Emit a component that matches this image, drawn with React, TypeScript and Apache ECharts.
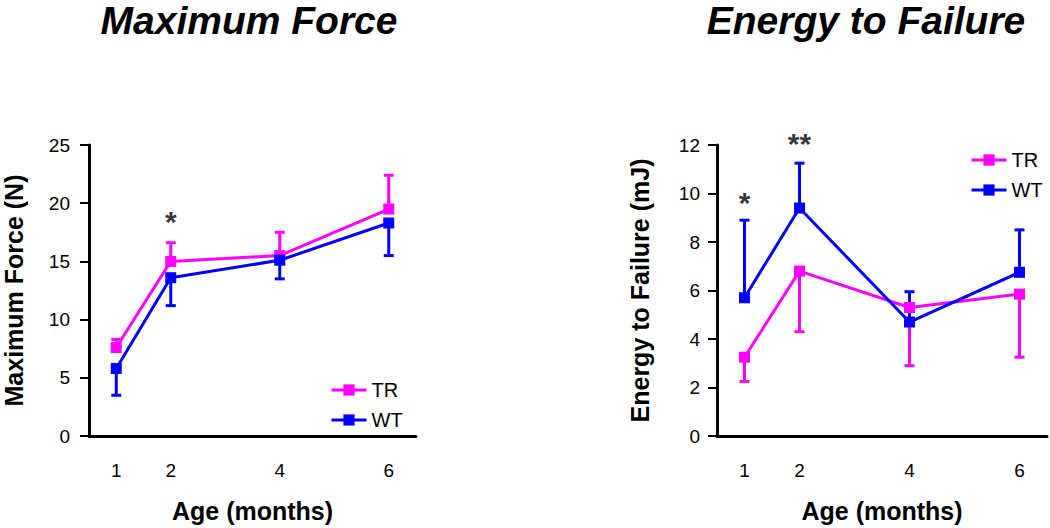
import React, { useEffect, useRef } from "react";
import * as echarts from "echarts";

const xTicks = [1, 2, 4, 6];
const seriesNames = ["TR", "WT"];

const forceTR = [7.6, 15.0, 15.5, 19.5];
const forceTRErrEnd = [8.3, 16.6, 17.5, 22.4];
const forceWT = [5.8, 13.6, 15.1, 18.3];
const forceWTErrEnd = [3.5, 11.2, 13.5, 15.5];

const energyTR = [3.25, 6.8, 5.3, 5.85];
const energyTRErrEnd = [2.25, 4.3, 2.9, 3.25];
const energyWT = [5.7, 9.4, 4.7, 6.75];
const energyWTErrEnd = [8.9, 11.25, 5.95, 8.5];

const forceStars: [number, number, string][] = [[2, 19.1, "*"]];
const energyStars: [number, number, string][] = [
  [1, 9.95, "*"],
  [2, 12.4, "**"],
];

const TR_COLOR = "#FF00FF";
const WT_COLOR = "#0000FF";
const FONT = 'Arial, "Liberation Sans", Helvetica, sans-serif';

function pairs(vals: number[]) {
  return xTicks.map((x, i) => [x, vals[i]]);
}
function errData(vals: number[], ends: number[]) {
  return xTicks.map((x, i) => [x, vals[i], ends[i]]);
}

function errSeries(idx: number, vals: number[], ends: number[], color: string) {
  return {
    type: "custom",
    xAxisIndex: idx,
    yAxisIndex: idx,
    z: 1,
    silent: true,
    encode: { x: 0, y: [1, 2] },
    data: errData(vals, ends),
    renderItem: (params: any, api: any) => {
      const x = api.value(0);
      const v = api.value(1);
      const e = api.value(2);
      const p0 = api.coord([x, v]);
      const p1 = api.coord([x, e]);
      const style = { stroke: color, lineWidth: 3, fill: "none" };
      return {
        type: "group",
        children: [
          { type: "line", shape: { x1: p0[0], y1: p0[1], x2: p1[0], y2: p1[1] }, style },
          { type: "line", shape: { x1: p1[0] - 5, y1: p1[1], x2: p1[0] + 5, y2: p1[1] }, style },
        ],
      };
    },
  };
}

function lineSeries(idx: number, name: string, vals: number[], color: string) {
  return {
    type: "line",
    name,
    xAxisIndex: idx,
    yAxisIndex: idx,
    z: 3,
    data: pairs(vals),
    symbol: "rect",
    symbolSize: 11,
    showSymbol: true,
    itemStyle: { color },
    lineStyle: { color, width: 3 },
  };
}

function starSeries(idx: number, stars: [number, number, string][]) {
  return {
    type: "scatter",
    xAxisIndex: idx,
    yAxisIndex: idx,
    clip: false,
    silent: true,
    symbolSize: 0,
    data: stars.map((s) => ({ value: [s[0], s[1]], name: s[2] })),
    label: {
      show: true,
      position: "inside",
      formatter: (p: any) => p.name,
      fontSize: 30,
      fontWeight: "bold",
      fontFamily: FONT,
      color: "#000",
      offset: [0, 8],
    },
  };
}

function xAxisCfg(idx: number) {
  return {
    gridIndex: idx,
    type: "value",
    min: 0.5,
    max: 6.5,
    interval: 0.5,
    axisLine: { onZero: false, lineStyle: { color: "#000", width: 3 } },
    axisTick: { show: false },
    splitLine: { show: false },
    axisLabel: {
      formatter: (v: number) => (xTicks.includes(v) ? String(v) : ""),
      fontSize: 19,
      fontFamily: FONT,
      color: "#000",
      margin: 25,
    },
    name: "Age (months)",
    nameLocation: "middle",
    nameGap: 62,
    nameTextStyle: { fontSize: 25, fontWeight: "bold", fontFamily: FONT, color: "#000" },
  };
}

function yAxisCfg(idx: number, max: number, interval: number, name: string, gap: number, margin: number) {
  return {
    gridIndex: idx,
    type: "value",
    min: 0,
    max,
    interval,
    axisLine: { show: true, onZero: false, lineStyle: { color: "#000", width: 3 } },
    axisTick: { show: true, length: 9, lineStyle: { color: "#000", width: 2 } },
    splitLine: { show: false },
    axisLabel: { fontSize: 19, fontFamily: FONT, color: "#000", margin },
    name,
    nameLocation: "middle",
    nameGap: gap,
    nameTextStyle: { fontSize: 25, fontWeight: "bold", fontFamily: FONT, color: "#000" },
  };
}

function legendCfg(left: number, top: number) {
  return {
    data: seriesNames,
    orient: "vertical",
    left,
    top,
    padding: 0,
    itemWidth: 35,
    itemHeight: 14,
    itemGap: 10,
    selectedMode: false,
    lineStyle: { width: 3 },
    textStyle: { fontSize: 20, fontFamily: FONT, color: "#000" },
  };
}

export default function App() {
  const ref = useRef<HTMLDivElement>(null);
  useEffect(() => {
    if (!ref.current) return;
    const chart = echarts.init(ref.current, undefined, { renderer: "svg" });
    chart.setOption({
      animation: false,
      backgroundColor: "#fff",
      textStyle: { fontFamily: FONT },
      graphic: [
        {
          type: "text",
          x: 249,
          y: 20,
          style: {
            text: "Maximum Force",
            textAlign: "center",
            textVerticalAlign: "middle",
            font: `italic bold 39px ${FONT}`,
            fill: "#000",
          },
        },
        {
          type: "text",
          x: 866,
          y: 20,
          style: {
            text: "Energy to Failure",
            textAlign: "center",
            textVerticalAlign: "middle",
            font: `italic bold 39px ${FONT}`,
            fill: "#000",
          },
        },
      ],
      legend: [legendCfg(330, 380), legendCfg(970, 150)],
      grid: [
        { left: 86, top: 145, width: 330, height: 294 },
        { left: 717, top: 145, width: 331, height: 296 },
      ],
      xAxis: [xAxisCfg(0), xAxisCfg(1)],
      yAxis: [
        yAxisCfg(0, 25, 5, "Maximum Force (N)", 63, 19),
        yAxisCfg(1, 12, 2, "Energy to Failure (mJ)", 65, 17),
      ],
      series: [
        errSeries(0, forceTR, forceTRErrEnd, TR_COLOR),
        errSeries(0, forceWT, forceWTErrEnd, WT_COLOR),
        lineSeries(0, "TR", forceTR, TR_COLOR),
        lineSeries(0, "WT", forceWT, WT_COLOR),
        starSeries(0, forceStars),
        errSeries(1, energyTR, energyTRErrEnd, TR_COLOR),
        errSeries(1, energyWT, energyWTErrEnd, WT_COLOR),
        lineSeries(1, "TR", energyTR, TR_COLOR),
        lineSeries(1, "WT", energyWT, WT_COLOR),
        starSeries(1, energyStars),
      ],
    });
    return () => chart.dispose();
  }, []);
  return (
    <div
      ref={ref}
      style={{ position: "fixed", left: 0, top: 0, width: 1050, height: 528, background: "#fff" }}
    />
  );
}
